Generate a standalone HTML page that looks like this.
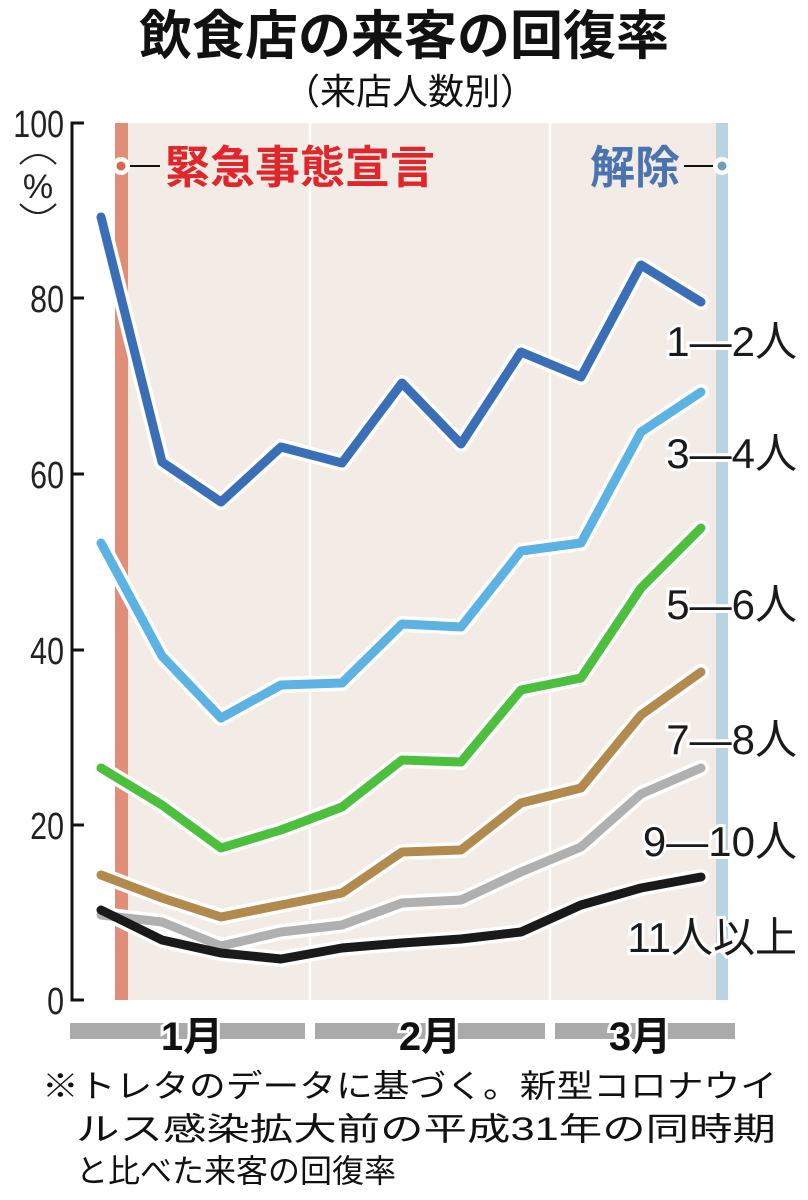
<!DOCTYPE html>
<html><head><meta charset="utf-8"><style>
body{margin:0;background:#fff;}
svg{display:block;font-family:"Liberation Sans","Noto Sans CJK JP",sans-serif;}
.lbl{font-size:42px;fill:#1a1a1a;stroke:#fff;stroke-width:6px;paint-order:stroke;}
.tick{font-size:38px;fill:#222;font-family:"Liberation Sans Narrow","Liberation Sans",sans-serif;}
</style></head><body>
<svg width="808" height="1200" viewBox="0 0 808 1200">
<text x="404" y="54" text-anchor="middle" font-size="53" font-weight="bold" fill="#111">飲食店の来客の回復率</text>
<text x="410" y="104" text-anchor="middle" font-size="36" fill="#111">（来店人数別）</text>
<rect x="115" y="123" width="613" height="877" fill="#f3ebe6"/>
<rect x="115" y="123" width="13" height="877" fill="#e08e78"/>
<rect x="716" y="123" width="12" height="877" fill="#b7d4e0"/>
<line x1="310" y1="123" x2="310" y2="1000" stroke="#fff" stroke-width="2.5"/>
<line x1="550" y1="123" x2="550" y2="1000" stroke="#fff" stroke-width="2.5"/>
<path d="M84,123 H72 V1000 H84 M72,298 H84 M72,474 H84 M72,650 H84 M72,825 H84" fill="none" stroke="#111" stroke-width="3"/>
<g class="tick" text-anchor="end">
<g transform="translate(64,0) scale(0.8,1)">
<text x="0" y="137">100</text><text x="0" y="312">80</text><text x="0" y="488">60</text><text x="0" y="664">40</text><text x="0" y="839">20</text><text x="0" y="1014">0</text>
</g></g>
<text x="38" y="198" font-size="34" fill="#222" text-anchor="middle">%</text>
<path d="M20,164 Q38,146 56,164 M20,204 Q38,222 56,204" fill="none" stroke="#222" stroke-width="2"/>
<circle cx="121" cy="166" r="9" fill="#fff"/><circle cx="121" cy="166" r="4.5" fill="#d9664a"/>
<line x1="130" y1="166" x2="160" y2="166" stroke="#111" stroke-width="2"/>
<text x="165" y="183" font-size="45" font-weight="bold" fill="#e0262b">緊急事態宣言</text>
<text x="590" y="183" font-size="45" font-weight="bold" fill="#4a74b0">解除</text>
<line x1="684" y1="166" x2="714" y2="166" stroke="#111" stroke-width="2"/>
<circle cx="722" cy="166" r="9" fill="#fff"/><circle cx="722" cy="166" r="4.5" fill="#6e9fb5"/>
<g fill="none" stroke-linejoin="round" stroke-linecap="round">
<g stroke="#fff" stroke-width="16">
<polyline points="101,217 162,462 221,502 281,447 342,463 402,383 461,444 521,352 581,377 641,265 701,302"/>
<polyline points="101,543 162,656 221,718 281,685 342,683 402,624 461,627 521,551 581,543 641,432 701,392"/>
<polyline points="101,768 162,805 221,848 281,830 342,807 402,760 461,762 521,690 581,678 641,588 701,528"/>
<polyline points="101,875 162,898 221,917 281,905 342,893 402,852 461,850 521,803 581,788 641,715 701,672"/>
<polyline points="101,915 162,922 221,946 281,932 342,925 402,903 461,900 521,872 581,847 641,794 701,768"/>
<polyline points="101,910 162,940 221,953 281,959 342,948 402,943 461,939 521,932 581,905 641,888 701,877"/>
</g>
<polyline stroke="#3a6fb8" stroke-width="9" points="101,217 162,462 221,502 281,447 342,463 402,383 461,444 521,352 581,377 641,265 701,302"/>
<polyline stroke="#5bb2e3" stroke-width="9" points="101,543 162,656 221,718 281,685 342,683 402,624 461,627 521,551 581,543 641,432 701,392"/>
<polyline stroke="#4cbf3c" stroke-width="9" points="101,768 162,805 221,848 281,830 342,807 402,760 461,762 521,690 581,678 641,588 701,528"/>
<polyline stroke="#b38a4e" stroke-width="9" points="101,875 162,898 221,917 281,905 342,893 402,852 461,850 521,803 581,788 641,715 701,672"/>
<polyline stroke="#b0b0b0" stroke-width="9" points="101,915 162,922 221,946 281,932 342,925 402,903 461,900 521,872 581,847 641,794 701,768"/>
<polyline stroke="#1a1a1a" stroke-width="9" points="101,910 162,940 221,953 281,959 342,948 402,943 461,939 521,932 581,905 641,888 701,877"/>
</g>
<g class="lbl" text-anchor="end">
<text x="797" y="356">1—2人</text>
<text x="797" y="468">3—4人</text>
<text x="797" y="619">5—6人</text>
<text x="797" y="754">7—8人</text>
<text x="797" y="856">9—10人</text>
<text x="797" y="952">11人以上</text>
</g>
<g fill="#aaaaaa">
<rect x="70" y="1023" width="235" height="16"/>
<rect x="315" y="1023" width="230" height="16"/>
<rect x="555" y="1023" width="180" height="16"/>
</g>
<g font-size="40" font-weight="bold" fill="#111" text-anchor="middle" stroke="#fff" stroke-width="6" paint-order="stroke">
<text x="192" y="1050">1月</text><text x="430" y="1050">2月</text><text x="640" y="1050">3月</text>
</g>
<g font-size="32" fill="#111">
<text x="42" y="1097" textLength="735" lengthAdjust="spacingAndGlyphs">※トレタのデータに基づく。新型コロナウイ</text>
<text x="76" y="1140" textLength="700" lengthAdjust="spacingAndGlyphs">ルス感染拡大前の平成31年の同時期</text>
<text x="76" y="1182">と比べた来客の回復率</text>
</g>
</svg>
</body></html>
